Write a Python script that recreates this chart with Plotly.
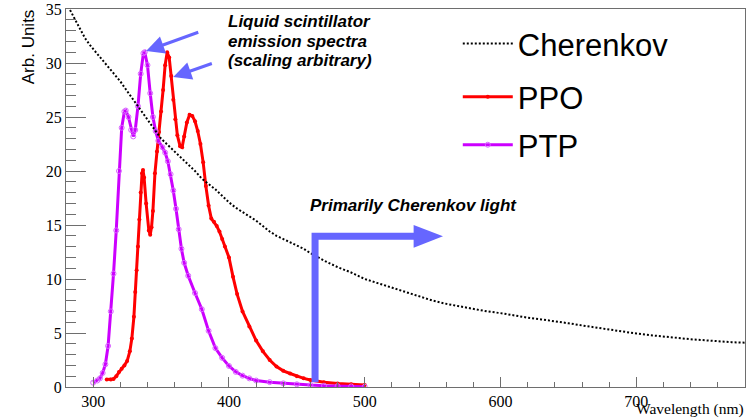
import plotly.graph_objects as go

# ---------------- data ----------------
cherenkov_nm = [283, 286, 290, 294, 298, 302, 306, 310, 315, 320, 325, 330, 335, 340, 345, 350, 355,
                360, 365, 370, 375, 380, 385, 390, 395, 400, 405, 410, 415, 420, 425, 430, 435, 440,
                445, 450, 455, 460, 470, 480, 490, 500, 510, 520, 530, 540, 550, 560, 570, 580, 590,
                600, 610, 620, 630, 640, 650, 660, 670, 680, 690, 700, 710, 720, 730, 740, 750, 760,
                770, 780]
cherenkov_val = [34.9, 34.2, 33.3, 32.3, 31.6, 31.0, 30.5, 29.9, 29.1, 28.3, 27.4, 26.5, 25.7, 24.8,
                 23.9, 23.0, 22.4, 21.8, 21.2, 20.6, 20.0, 19.3, 18.8, 18.3, 17.7, 17.1, 16.6, 16.2,
                 15.8, 15.4, 14.9, 14.4, 14.0, 13.7, 13.4, 13.1, 12.8, 12.4, 11.7, 11.1, 10.6, 10.0,
                 9.6, 9.15, 8.75, 8.35, 8.0, 7.7, 7.45, 7.2, 7.0, 6.84, 6.6, 6.42, 6.26, 6.1, 5.9,
                 5.7, 5.5, 5.3, 5.1, 4.95, 4.8, 4.65, 4.55, 4.42, 4.32, 4.2, 4.15, 4.1]

ppo_nm = [310, 313, 315, 317, 319, 321, 323, 325, 327, 328.5, 330, 331, 332, 333, 334, 335, 336,
          336.7, 337.5, 339, 341, 342, 343, 344, 345.5, 347, 348.5, 350, 351.5, 353, 354.5, 356,
          357.5, 359, 360.5, 362, 364, 365.5, 367, 369, 371, 373, 375, 377, 379, 381, 383, 385,
          387, 389, 391, 393, 395, 397, 400, 403, 406, 410, 415, 420, 425, 430, 435, 440, 445,
          450, 455, 460, 470, 480, 490, 500]
ppo_val = [0.7, 0.7, 0.75, 1.0, 1.4, 1.7, 2.0, 2.4, 3.3, 4.5, 6.5, 8.8, 10.8, 13.0, 15.5, 18.0,
           19.8, 20.1, 19.4, 17.0, 14.5, 14.1, 14.8, 16.3, 19.8, 21.8, 23.6, 25.5, 27.5, 29.8, 31.0,
           30.5, 28.8, 26.6, 24.8, 23.3, 22.3, 22.2, 23.2, 24.5, 25.2, 25.1, 24.6, 23.7, 22.5, 20.8,
           18.6, 16.8, 15.6, 15.3, 14.9, 14.4, 13.7, 13.0, 12.0, 10.2, 8.6, 7.0, 5.6, 4.3, 3.3,
           2.5, 1.9, 1.5, 1.25, 1.0, 0.8, 0.65, 0.45, 0.33, 0.25, 0.18]

ptp_nm = [300, 303, 305, 307, 309, 311, 313, 315, 317, 319, 321, 323, 324, 326, 328, 329.5, 331,
          333, 335, 337, 338, 340, 342, 344, 346, 348, 351, 353, 355, 357, 359, 361, 363, 365, 367,
          370, 375, 380, 385, 390, 395, 400, 405, 410, 415, 420, 430, 440, 450, 460, 470, 480, 490,
          500]
ptp_val = [0.4, 0.6, 0.8, 1.3, 2.1, 3.8, 7.0, 10.5, 14.5, 20.0, 24.0, 25.5, 25.6, 25.0, 23.8,
           23.2, 23.8, 26.0, 29.0, 30.9, 31.0, 29.8, 27.2, 25.0, 23.7, 22.8, 22.2, 21.7, 20.9, 19.7,
           18.2, 16.5, 14.6, 12.8, 11.5, 10.3, 8.7, 7.2, 5.2, 3.6, 2.7, 1.95, 1.4, 1.05, 0.8, 0.6,
           0.45, 0.34, 0.25, 0.18, 0.12, 0.08, 0.05, 0.03]

x_ticks = [300, 400, 500, 600, 700]
y_ticks = [0, 5, 10, 15, 20, 25, 30, 35]

# ---------------- styling ----------------
ARROW = "#6666ff"
AXCOL = "#6e6e6e"
SERIF = "Liberation Serif"
SANS = "Liberation Sans"

fig = go.Figure()

fig.add_trace(go.Scatter(x=ppo_nm, y=ppo_val, mode="lines+markers", name="PPO",
                         line=dict(color="#ff0000", width=3),
                         marker=dict(color="#ff0000", size=4, symbol="circle"),
                         legend="legend2"))
fig.add_trace(go.Scatter(x=ptp_nm, y=ptp_val, mode="lines+markers", name="PTP",
                         line=dict(color="#cc00ff", width=3),
                         marker=dict(color="#d966ff", size=5, symbol="circle-open",
                                     line=dict(width=1)),
                         legend="legend3"))
fig.add_trace(go.Scatter(x=cherenkov_nm, y=cherenkov_val, mode="lines", name="Cherenkov",
                         line=dict(color="black", width=2, dash="2px,2px"),
                         legend="legend"))

leg_common = dict(font=dict(family=SANS, size=31, color="black"), bgcolor="rgba(0,0,0,0)",
                  borderwidth=0, xanchor="left", yanchor="middle", x=0.577, itemwidth=50)

fig.update_layout(
    width=746, height=419,
    margin=dict(l=66, r=1, t=9, b=32, autoexpand=False),
    paper_bgcolor="white", plot_bgcolor="white",
    showlegend=True,
    legend=dict(**leg_common, y=0.908),
    legend2=dict(**leg_common, y=0.767),
    legend3=dict(**leg_common, y=0.640),
    xaxis=dict(range=[280, 780], tickvals=x_ticks, ticks="inside", ticklen=10, automargin=False,
               tickcolor=AXCOL, showline=True, linecolor=AXCOL, mirror=True, showgrid=False,
               zeroline=False, tickfont=dict(family=SERIF, size=16, color="black"),
               minor=dict(dtick=20, ticks="inside", ticklen=5, tickcolor=AXCOL)),
    yaxis=dict(range=[0, 35], tickvals=y_ticks, ticks="inside", ticklen=20, automargin=False,
               tickcolor=AXCOL, showline=True, linecolor=AXCOL, mirror=True, showgrid=False,
               zeroline=False, tickfont=dict(family=SERIF, size=16, color="black"),
               minor=dict(dtick=1, ticks="inside", ticklen=10, tickcolor=AXCOL)),
)

# axis titles
fig.add_annotation(text="Arb. Units", xref="paper", yref="paper", x=-0.055, y=1.005,
                   xanchor="center", yanchor="top", textangle=-90, showarrow=False,
                   font=dict(family=SANS, size=17, color="black"))
fig.add_annotation(text="Wavelength (nm)", xref="paper", yref="paper", x=1.0, y=-0.0845,
                   xanchor="right", yanchor="bottom", showarrow=False, borderpad=0,
                   font=dict(family=SERIF, size=15.5, color="black"))

# text annotations
note_font = dict(family=SANS, size=17, color="black")
for txt, yy in [("<b><i>Liquid scintillator</i></b>", 33.8),
                ("<b><i>emission spectra</i></b>", 32.0),
                ("<b><i>(scaling arbitrary)</i></b>", 30.2)]:
    fig.add_annotation(text=txt, x=398, y=yy, xref="x", yref="y", xanchor="left",
                       yanchor="middle", showarrow=False, font=note_font)
fig.add_annotation(text="<b><i>Primarily Cherenkov light</i></b>", x=458, y=16.85,
                   xref="x", yref="y", xanchor="left", yanchor="middle", showarrow=False,
                   font=note_font)

# pointer arrows
for (hx, hy, tx, ty) in [(339.0, 31.1, 378.5, 32.9), (359.0, 28.7, 388.5, 30.0)]:
    fig.add_annotation(x=hx, y=hy, ax=tx, ay=ty, xref="x", yref="y", axref="x", ayref="y",
                       text="", showarrow=True, arrowhead=2, arrowsize=1.2, arrowwidth=3,
                       arrowcolor=ARROW, standoff=0)

# big L-shaped arrow
LX, LY0, LY1, LXEND, LXTIP = 463.4, 0.45, 13.95, 537.0, 557.6
fig.add_shape(type="path", xref="x", yref="y",
              path=f"M {LX},{LY0} L {LX},{LY1} L {LXEND},{LY1}",
              line=dict(color=ARROW, width=7))
fig.add_shape(type="path", xref="x", yref="y",
              path=f"M {LXEND - 1},{LY1 + 1.05} L {LXTIP},{LY1} L {LXEND - 1},{LY1 - 1.05} Z",
              line=dict(color=ARROW, width=0), fillcolor=ARROW)

fig.write_html("out.html", config={"displayModeBar": False},
               post_script="document.body.style.margin='0px';document.body.style.overflow='hidden';")
